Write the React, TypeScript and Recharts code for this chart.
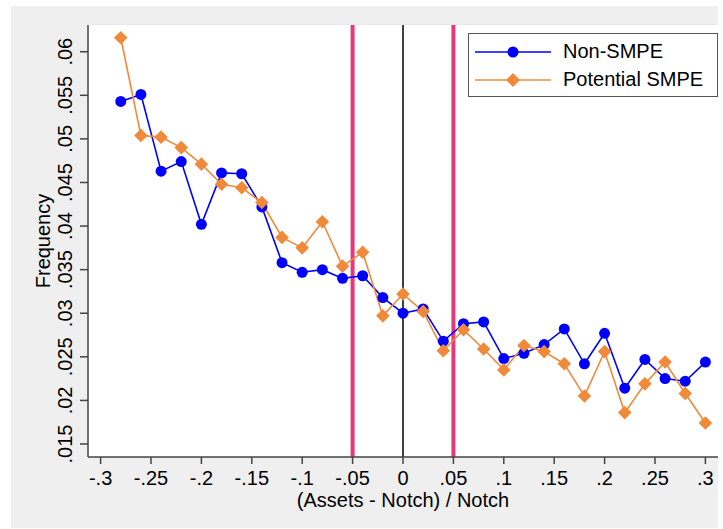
import React from 'react';
import { LineChart, Line, XAxis, YAxis, CartesianGrid, ReferenceLine, Legend } from 'recharts';

const xVals = [-0.28, -0.26, -0.24, -0.22, -0.2, -0.18, -0.16, -0.14, -0.12, -0.1, -0.08, -0.06, -0.04, -0.02, 0,
    0.02, 0.04, 0.06, 0.08, 0.1, 0.12, 0.14, 0.16, 0.18, 0.2, 0.22, 0.24, 0.26, 0.28, 0.3];

const nonSmpe = [0.0543, 0.0551, 0.0463, 0.0474, 0.0402, 0.0461, 0.046, 0.0422, 0.0358, 0.0347, 0.035, 0.034, 0.0343, 0.0318, 0.03,
    0.0305, 0.0268, 0.0288, 0.029, 0.0248, 0.0254, 0.0264, 0.0282, 0.0242, 0.0277, 0.0214, 0.0247, 0.0225, 0.0222, 0.0244];

const potentialSmpe = [0.0616, 0.0504, 0.0502, 0.049, 0.0471, 0.0448, 0.0444, 0.0427, 0.0387, 0.0375, 0.0405, 0.0354, 0.037, 0.0297, 0.0322,
    0.0302, 0.0257, 0.0281, 0.0259, 0.0235, 0.0263, 0.0256, 0.0242, 0.0205, 0.0256, 0.0186, 0.0219, 0.0244, 0.0208, 0.0174];

const xTicks = [-0.3, -0.25, -0.2, -0.15, -0.1, -0.05, 0, 0.05, 0.1, 0.15, 0.2, 0.25, 0.3];
const yTicks = [0.015, 0.02, 0.025, 0.03, 0.035, 0.04, 0.045, 0.05, 0.055, 0.06];
const bandLines = [-0.05, 0.05];

const data = xVals.map((x, i) => ({ x, nonSmpe: nonSmpe[i], potentialSmpe: potentialSmpe[i] }));

const FONT = '"Liberation Sans", Arial, sans-serif';
const FS = 20;
const BLUE = '#0000ff';
const ORANGE = '#f08a3a';
const PINK = '#e8387c';
const AXIS = '#444';

// stata style numbers: .05, -.25, 0
const stata = (v: number) => {
    if (Math.abs(v) < 1e-9) return '0';
    const s = parseFloat(v.toFixed(4)).toString();
    return s.replace(/^(-?)0\./, '$1.');
};

const YTick = ({ y, payload }: any) => (
    <text x={54} y={y} transform={`rotate(-90, 54, ${y})`} textAnchor="middle" dominantBaseline="central"
        fontFamily={FONT} fontSize={FS} fill="#000">
        {stata(payload.value)}
    </text>
);

const XTick = ({ x, payload }: any) => (
    <text x={x} y={472} textAnchor="middle" dominantBaseline="central" fontFamily={FONT} fontSize={FS} fill="#000">
        {stata(payload.value)}
    </text>
);

const Diamond = ({ cx, cy }: any) => {
    if (cx == null || cy == null) return null;
    const r = 6.8;
    return <path d={`M${cx},${cy - r}L${cx + r},${cy}L${cx},${cy + r}L${cx - r},${cy}Z`} fill={ORANGE} />;
};

const Dot = ({ cx, cy }: any) => {
    if (cx == null || cy == null) return null;
    return <circle cx={cx} cy={cy} r={5.5} fill={BLUE} />;
};

const renderLegend = () => (
    <div style={{ width: 250, height: 64, border: '1.5px solid #555', background: '#fff', boxSizing: 'border-box', fontFamily: FONT, fontSize: FS }}>
        {[
            { name: 'Non-SMPE', color: BLUE, mark: 'circle' },
            { name: 'Potential SMPE', color: ORANGE, mark: 'diamond' },
        ].map((item, i) => (
            <div key={item.name} style={{ position: 'absolute', left: 0, top: i === 0 ? 6 : 34, height: 26, display: 'flex', alignItems: 'center' }}>
                <svg width={90} height={26} style={{ marginLeft: 7 }}>
                    <line x1={0} y1={13} x2={76} y2={13} stroke={item.color} strokeWidth={1.5} />
                    {item.mark === 'circle'
                        ? <circle cx={38} cy={13} r={5.5} fill={item.color} />
                        : <path d="M38,6L45,13L38,20L31,13Z" fill={item.color} />}
                </svg>
                <span style={{ color: '#000', marginLeft: -2 }}>{item.name}</span>
            </div>
        ))}
    </div>
);

const App = () => {
    return (
        <div style={{ position: 'absolute', left: 0, top: 0, width: 723, height: 529, background: '#fff' }}>
            <div style={{ position: 'absolute', left: 11, top: 6 }}>
                <LineChart width={707} height={522} data={data} margin={{ top: 19, right: 0, bottom: 0, left: 0 }}
                    style={{ background: '#efefef' }}>
                    <rect x={77} y={19} width={630} height={432} fill="#fff" />
                    <CartesianGrid vertical={false} stroke="#e6e6e6" strokeWidth={1.5} fill="#fff" />
                    <XAxis dataKey="x" type="number" domain={[-0.3125, 0.3125]} ticks={xTicks} height={71}
                        stroke={AXIS} strokeWidth={1.5} tickSize={7} tick={<XTick />} interval={0}
                        label={{
                            content: ({ viewBox }: any) => (
                                <text x={viewBox.x + viewBox.width / 2} y={494} textAnchor="middle" dominantBaseline="central"
                                    fontFamily={FONT} fontSize={FS} fill="#000">(Assets - Notch) / Notch</text>
                            ),
                        }} />
                    <YAxis type="number" domain={[0.013508, 0.063065]} ticks={yTicks} width={77} allowDataOverflow
                        stroke={AXIS} strokeWidth={1.5} tickSize={8} tick={<YTick />} interval={0}
                        label={{
                            content: ({ viewBox }: any) => (
                                <text x={32} y={viewBox.y + viewBox.height / 2} transform={`rotate(-90, 32, ${viewBox.y + viewBox.height / 2})`}
                                    textAnchor="middle" dominantBaseline="central" fontFamily={FONT} fontSize={FS} fill="#000">Frequency</text>
                            ),
                        }} />
                    {bandLines.map(v => (
                        <ReferenceLine key={v} x={v} stroke={PINK} strokeWidth={4} />
                    ))}
                    <ReferenceLine x={0} stroke="#000" strokeWidth={1.5} />
                    <Line type="linear" dataKey="nonSmpe" name="Non-SMPE" stroke={BLUE} strokeWidth={1.6}
                        dot={<Dot />} activeDot={false} isAnimationActive={false} />
                    <Line type="linear" dataKey="potentialSmpe" name="Potential SMPE" stroke={ORANGE} strokeWidth={1.6}
                        dot={<Diamond />} activeDot={false} isAnimationActive={false} />
                    <Legend layout="horizontal" verticalAlign="middle" align="center" content={renderLegend}
                        wrapperStyle={{ left: 457, top: 26.5, width: 250, height: 64 }} />
                </LineChart>
            </div>
        </div>
    );
};

export default App;
